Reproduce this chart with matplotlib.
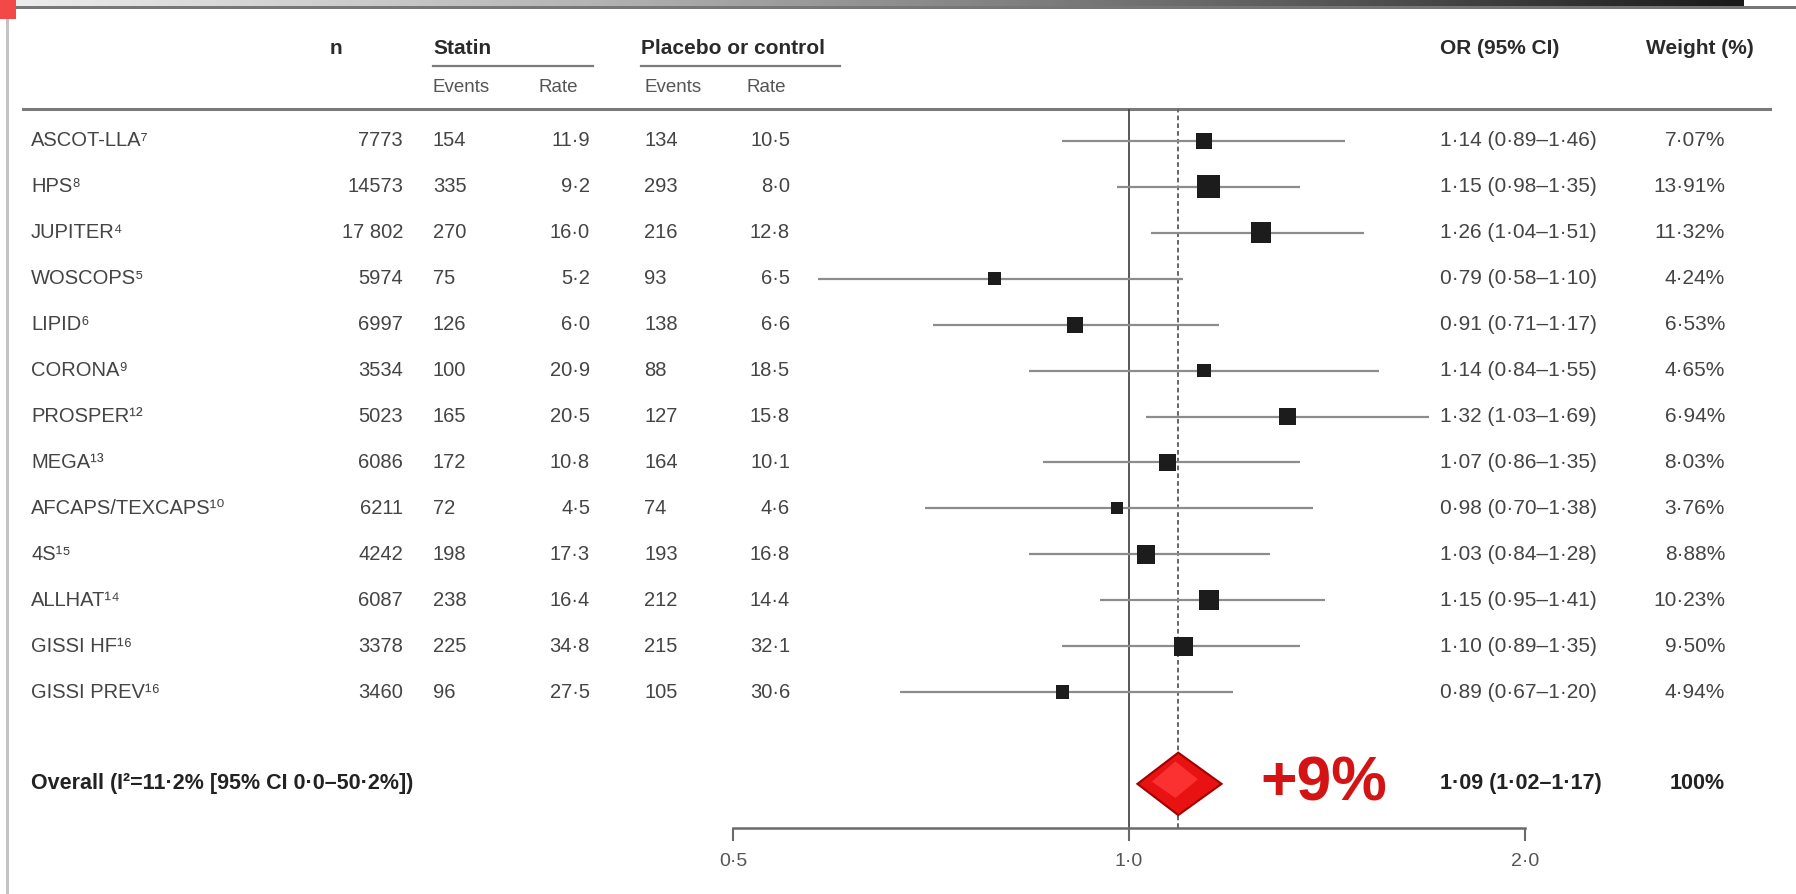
import numpy as np
import matplotlib.pyplot as plt
from matplotlib.patches import Polygon, Rectangle
from matplotlib.ticker import FixedLocator, FixedFormatter, NullLocator
from matplotlib.transforms import blended_transform_factory
from matplotlib.colors import LinearSegmentedColormap

plt.rcParams['font.family'] = ['Liberation Sans', 'DejaVu Sans']

studies = ["ASCOT-LLA⁷", "HPS⁸", "JUPITER⁴", "WOSCOPS⁵", "LIPID⁶", "CORONA⁹",
           "PROSPER¹²", "MEGA¹³", "AFCAPS/TEXCAPS¹⁰", "4S¹⁵", "ALLHAT¹⁴",
           "GISSI HF¹⁶", "GISSI PREV¹⁶"]
n_pts = ["7773", "14573", "17 802", "5974", "6997", "3534", "5023", "6086",
         "6211", "4242", "6087", "3378", "3460"]
statin_events = [154, 335, 270, 75, 126, 100, 165, 172, 72, 198, 238, 225, 96]
statin_rate = [11.9, 9.2, 16.0, 5.2, 6.0, 20.9, 20.5, 10.8, 4.5, 17.3, 16.4, 34.8, 27.5]
ctrl_events = [134, 293, 216, 93, 138, 88, 127, 164, 74, 193, 212, 215, 105]
ctrl_rate = [10.5, 8.0, 12.8, 6.5, 6.6, 18.5, 15.8, 10.1, 4.6, 16.8, 14.4, 32.1, 30.6]
odds = [1.14, 1.15, 1.26, 0.79, 0.91, 1.14, 1.32, 1.07, 0.98, 1.03, 1.15, 1.10, 0.89]
ci_lo = [0.89, 0.98, 1.04, 0.58, 0.71, 0.84, 1.03, 0.86, 0.70, 0.84, 0.95, 0.89, 0.67]
ci_hi = [1.46, 1.35, 1.51, 1.10, 1.17, 1.55, 1.69, 1.35, 1.38, 1.28, 1.41, 1.35, 1.20]
weight = [7.07, 13.91, 11.32, 4.24, 6.53, 4.65, 6.94, 8.03, 3.76, 8.88, 10.23, 9.50, 4.94]
overall_or, overall_lo, overall_hi = 1.09, 1.02, 1.17
overall_label = "Overall (I²=11·2% [95% CI 0·0–50·2%])"
x_ticks = [0.5, 1.0, 2.0]


def dot(v, nd=1):
    return f"{v:.{nd}f}".replace(".", "·")


W, H = 1796, 894
fig = plt.figure(figsize=(W / 100, H / 100), dpi=100)
fig.patch.set_facecolor("white")

# background axes in pixel units (for frame and header text)
bg = fig.add_axes([0, 0, 1, 1])
bg.set_xlim(0, W)
bg.set_ylim(H, 0)
bg.axis("off")

# forest axes: log odds ratio, rows by index
px0, px1 = 700, 1560
top_px, bot_px = 109, 828
row0, step = 141, 45.92
ax = fig.add_axes([px0 / W, 1 - bot_px / H, (px1 - px0) / W, (bot_px - top_px) / H])
ax.set_xscale("log")
ax.set_xlim(2 ** ((px0 - 1129) / 396), 2 ** ((px1 - 1129) / 396))
ax.set_ylim((bot_px - row0) / step, (top_px - row0) / step)
ax.patch.set_alpha(0)
for s in ["top", "left", "right"]:
    ax.spines[s].set_visible(False)
ax.spines["bottom"].set_bounds(0.5, 2.0)
ax.spines["bottom"].set_color("#6a6a6a")
ax.spines["bottom"].set_linewidth(1.8)
ax.xaxis.set_major_locator(FixedLocator(x_ticks))
ax.xaxis.set_major_formatter(FixedFormatter([dot(t) for t in x_ticks]))
ax.xaxis.set_minor_locator(NullLocator())
ax.tick_params(axis="x", direction="out", length=9, width=1.5, color="#6a6a6a",
               labelsize=14, labelcolor="#555555", pad=9)
ax.set_yticks([])

rows = np.arange(len(studies))
ax.axvline(1.0, color="#4a4a4a", lw=1.3, zorder=1)
ax.axvline(overall_or, color="#666666", lw=1.4, ls=(0, (2.4, 1.6)), zorder=1)
ax.hlines(rows, ci_lo, ci_hi, color="#8c8c8c", lw=1.6, zorder=2)
side = 6.2 * np.sqrt(weight) * 0.72
ax.scatter(odds, rows, marker="s", s=side ** 2, color="#1c1c1c", zorder=3, linewidths=0)

# overall diamond
yo = len(studies) + 1
hd = 0.68
ax.add_patch(Polygon([(overall_lo * 0.995, yo), (overall_or, yo - hd), (overall_hi * 1.005, yo), (overall_or, yo + hd)],
                     closed=True, facecolor="#e81212", edgecolor="#a30000", lw=1.5, zorder=4))
ax.add_patch(Polygon([(overall_or * 0.955, yo - 0.05), (overall_or * 0.995, yo - hd * 0.72),
                      (overall_or * 1.035, yo - 0.1), (overall_or * 0.995, yo + hd * 0.45)],
                     closed=True, facecolor="#ff3a3a", edgecolor="none", zorder=5, alpha=0.8))

# table text: x in pixels, y in row units
tr = blended_transform_factory(bg.transData, ax.transData)
tc = "#444444"
fs = 14.5
for i in rows:
    bg.text(31, i, studies[i], transform=tr, ha="left", va="center", fontsize=fs, color=tc)
    bg.text(403, i, n_pts[i], transform=tr, ha="right", va="center", fontsize=fs, color=tc)
    bg.text(433, i, str(statin_events[i]), transform=tr, ha="left", va="center", fontsize=fs, color=tc)
    bg.text(590, i, dot(statin_rate[i]), transform=tr, ha="right", va="center", fontsize=fs, color=tc)
    bg.text(644, i, str(ctrl_events[i]), transform=tr, ha="left", va="center", fontsize=fs, color=tc)
    bg.text(790, i, dot(ctrl_rate[i]), transform=tr, ha="right", va="center", fontsize=fs, color=tc)
    bg.text(1440, i, f"{dot(odds[i], 2)} ({dot(ci_lo[i], 2)}–{dot(ci_hi[i], 2)})", transform=tr,
            ha="left", va="center", fontsize=fs + 0.5, color=tc)
    bg.text(1725, i, f"{dot(weight[i], 2)}%", transform=tr, ha="right", va="center", fontsize=fs + 0.5, color=tc)

bg.text(31, yo, overall_label, transform=tr, ha="left", va="center", fontsize=15.5,
        color="#222222", fontweight="bold")
bg.text(1440, yo, f"{dot(overall_or, 2)} ({dot(overall_lo, 2)}–{dot(overall_hi, 2)})", transform=tr,
        ha="left", va="center", fontsize=15.5, color="#222222", fontweight="bold")
bg.text(1725, yo, "100%", transform=tr, ha="right", va="center", fontsize=15.5,
        color="#222222", fontweight="bold")
bg.text(1260, yo, "+9%", transform=tr, ha="left", va="center", fontsize=45,
        color="#d41414", fontweight="bold")

# headers
hc = "#2a2a2a"
for x, s in [(330, "n"), (433, "Statin"), (641, "Placebo or control"),
             (1440, "OR (95% CI)"), (1646, "Weight (%)")]:
    bg.text(x, 48, s, ha="left", va="center", fontsize=15, color=hc, fontweight="bold")
for x, s in [(433, "Events"), (538, "Rate"), (644, "Events"), (747, "Rate")]:
    bg.text(x, 87, s, ha="left", va="center", fontsize=fs - 1, color="#555555")
bg.plot([433, 593], [66, 66], color="#7a7a7a", lw=1.6)
bg.plot([641, 840], [66, 66], color="#7a7a7a", lw=1.6)
bg.plot([23, 1770], [109, 109], color="#7a7a7a", lw=2.2)

# frame: gradient strip, top rule, left rule, corner mark
grad = np.linspace(0, 1, 400).reshape(1, -1)
cmap = LinearSegmentedColormap.from_list("strip", ["#ededed", "#b5b5b5", "#6e6e6e", "#1a1a1a"])
bg.imshow(grad, extent=[0, 1744, 6, 0], cmap=cmap, aspect="auto", zorder=0)
bg.add_patch(Rectangle((6, 6), W - 6, 3, color="#777777", lw=0, zorder=1))
bg.add_patch(Rectangle((6, 6), 3, H - 6, color="#c4c4c4", lw=0, zorder=1))
bg.add_patch(Rectangle((0, 0), 16, 19, color="#f24848", lw=0, zorder=2))
bg.set_xlim(0, W)
bg.set_ylim(H, 0)

fig.savefig("out.png", dpi=100, facecolor="white")
